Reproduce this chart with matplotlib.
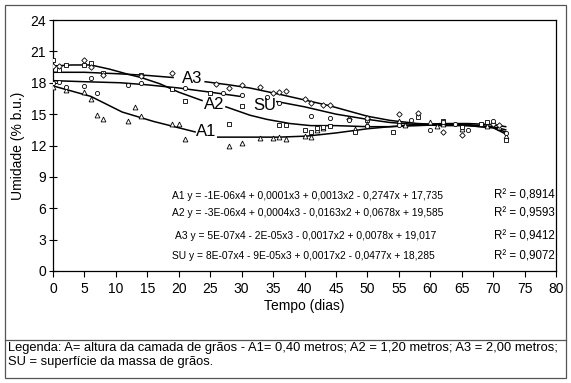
import numpy as np
import matplotlib
matplotlib.use("Agg")
import matplotlib.pyplot as plt
from matplotlib.patches import Rectangle
from matplotlib.lines import Line2D

plt.rcParams['font.family'] = ['Liberation Sans', 'DejaVu Sans']

nan = np.nan

a1_x = [0, 2, 5, 6, 7, 8, 12, 13, 14, 19, 20, 21, 28, 30, 33, 35, 36, 37, 40, 41,
        42, 43, 48, 50, 55, 56, 60, 61, 62, 65, 69, 70, 71, 72]
a1_y = [17.6, 17.3, 17.1, 16.4, 14.9, 14.5, 14.3, 15.7, 14.8, 14.1, 14.1, 12.6, 12.0,
        12.2, 12.7, 12.7, 12.8, 12.6, 12.9, 12.8, 13.5, 13.7, 13.6, 14.1, 14.3, 14.0,
        14.2, 13.9, 14.1, 13.6, 13.9, 14.2, 13.8, 12.9]

a2_x = [0, 1, 2, 5, 6, 8, 14, 19, 21, 25, 28, 30, 36, 37, 40, 41, 42, 43, 44, 48,
        50, 54, 58, 62, 65, 68, 69, 72]
a2_y = [20.2, 19.2, 19.7, 19.7, 19.9, 18.9, 18.7, 17.4, 16.3, 17.0, 14.1, 15.8, 14.0,
        14.0, 13.5, 13.3, 13.7, 13.8, 13.9, 13.3, 14.4, 13.3, 14.7, 14.3, 13.8, 14.1,
        14.2, 12.5]

a3_x = [0, 1, 5, 6, 8, 14, 19, 26, 28, 30, 33, 35, 36, 37, 40, 41, 43, 44, 47, 50,
        55, 58, 62, 65, 70, 71]
a3_y = [19.6, 19.6, 20.2, 19.5, 18.7, 18.6, 18.9, 17.9, 17.5, 17.8, 17.6, 17.0, 17.1,
        17.2, 16.4, 16.1, 15.9, 15.9, 14.5, 14.6, 15.0, 15.1, 13.3, 13.0, 14.1, 14.0]

su_x = [0, 1, 2, 5, 6, 7, 12, 14, 21, 27, 30, 34, 36, 41, 44, 47, 50, 55, 57, 60,
        62, 64, 66, 70, 72]
su_y = [18.0, 18.1, 17.6, 17.7, 18.5, 17.0, 17.8, 18.0, 17.5, 17.0, 16.8, 16.6, 16.1,
        14.8, 14.6, 14.4, 13.9, 14.0, 14.4, 13.5, 14.2, 14.1, 13.5, 14.3, 13.2]

# trend lines as seen on the chart (gaps where the labels sit)
a1_cx = [0, 3, 6, 11, 16, 22.6, nan, 26.2, 31, 36, 40.4, 45, 50, 53.6, 58, 62, 66, 70, 72]
a1_cy = [17.7, 17.2, 16.7, 15.2, 14.3, 13.3, nan, 12.8, 12.8, 12.8, 12.9, 13.2, 13.6,
         13.8, 14.0, 14.1, 14.1, 14.0, 13.8]
a2_cx = [0, 3, 6, 9, 12, 14, 17, 20, 23.7, nan, 27.5, 31.3, 34, 37.7, 41, 45, 50, 53.6,
         58, 62, 66, 70, 72]
a2_cy = [19.6, 19.7, 19.7, 19.3, 18.8, 18.5, 17.9, 17.1, 16.3, nan, 15.7, 14.9, 14.5,
         14.1, 13.9, 13.9, 13.8, 13.8, 13.9, 14.0, 14.0, 13.8, 13.5]
a3_cx = [0, 5, 10.7, 15, 19.1, nan, 24.2, 28, 31.3, 36, 40.4, 44, 47, 50, 53.6, 58, 62,
         66, 70, 72]
a3_cy = [19.0, 19.0, 18.85, 18.7, 18.5, nan, 18.1, 17.8, 17.5, 16.9, 16.3, 15.8, 15.3,
         14.8, 14.4, 14.1, 14.0, 13.9, 13.7, 13.3]
su_cx = [0, 5, 10.7, 15, 20, 25, 29.7, nan, 35.6, 40, 45, 50, 53.6, 58, 62, 66, 70, 72]
su_cy = [18.2, 18.1, 18.0, 17.8, 17.5, 17.1, 16.7, nan, 16.2, 15.7, 15.0, 14.5, 14.2,
         14.0, 13.9, 13.9, 13.7, 13.1]

equations = [
    "A1 y = -1E-06x4 + 0,0001x3 + 0,0013x2 - 0,2747x + 17,735",
    "A2 y = -3E-06x4 + 0,0004x3 - 0,0163x2 + 0,0678x + 19,585",
    "A3 y = 5E-07x4 - 2E-05x3 - 0,0017x2 + 0,0078x + 19,017",
    "SU y = 8E-07x4 - 9E-05x3 + 0,0017x2 - 0,0477x + 18,285",
]
r2_values = ["0,8914", "0,9593", "0,9412", "0,9072"]

legenda = ("Legenda: A= altura da camada de grãos - A1= 0,40 metros; A2 = 1,20 metros; "
           "A3 = 2,00 metros;\nSU = superfície da massa de grãos.")

fig = plt.figure(figsize=(5.71, 3.83), dpi=100)
W, H = 571, 383

# outer frame and the separator above the note
fig.patches.append(Rectangle((5 / W, 5 / H), 561 / W, 373 / H, transform=fig.transFigure,
                             fill=False, edgecolor='#555555', linewidth=0.9))
fig.lines.append(Line2D([5 / W, 566 / W], [1 - 340 / H, 1 - 340 / H],
                        transform=fig.transFigure, color='#555555', linewidth=0.9))

ax = fig.add_axes([53 / W, 1 - 271 / H, 503 / W, 251 / H])

mk = dict(linestyle='none', markerfacecolor='white', markeredgecolor='black',
          markeredgewidth=0.6, zorder=3)
ax.plot(a1_x, a1_y, marker='^', markersize=3.5, **mk)
ax.plot(a2_x, a2_y, marker='s', markersize=3.5, **mk)
ax.plot(a3_x, a3_y, marker='D', markersize=2.8, **mk)
ax.plot(su_x, su_y, marker='o', markersize=3.0, **mk)

for cx, cy in [(a1_cx, a1_cy), (a2_cx, a2_cy), (a3_cx, a3_cy), (su_cx, su_cy)]:
    ax.plot(cx, cy, color='black', linewidth=1.1, zorder=2)

ax.text(22.1, 18.45, "A3", fontsize=12, ha='center', va='center')
ax.text(25.6, 15.9, "A2", fontsize=12, ha='center', va='center')
ax.text(33.7, 15.8, "SU", fontsize=12, ha='center', va='center')
ax.text(24.3, 13.3, "A1", fontsize=12, ha='center', va='center')

eq_y = [7.2, 5.5, 3.3, 1.4]
eq_x = [18.9, 18.9, 19.4, 18.9]
for ex, ey, eq, r2 in zip(eq_x, eq_y, equations, r2_values):
    ax.text(ex, ey, eq, fontsize=7.4, ha='left', va='center')
    ax.text(79.8, ey, "R² = " + r2, fontsize=8.3, ha='right', va='center')

ax.set_xlim(0, 80)
ax.set_ylim(0, 24)
ax.set_xticks(np.arange(0, 81, 5))
ax.set_yticks(np.arange(0, 25, 3))
ax.tick_params(axis='x', direction='out', length=4, width=0.8, labelsize=10, pad=4)
ax.tick_params(axis='y', direction='inout', length=6, width=0.8, labelsize=10, pad=2)
for s in ax.spines.values():
    s.set_linewidth(0.9)
ax.set_xlabel("Tempo (dias)", fontsize=10, labelpad=2)
ax.set_ylabel("Umidade (% b.u.)", fontsize=10, labelpad=4)

fig.text(8 / W, 1 - 355 / H, legenda, fontsize=9.3, ha='left', va='center',
         linespacing=1.15)

fig.savefig("out.png", dpi=100)
